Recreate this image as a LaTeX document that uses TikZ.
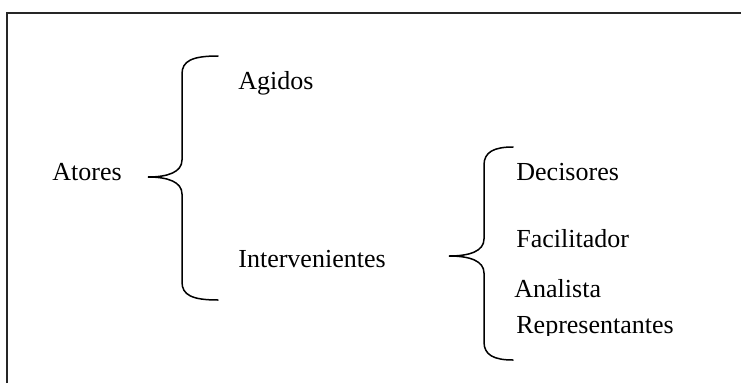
\documentclass[tikz,border=0pt]{standalone}
\usepackage{fontspec}
\setmainfont{Liberation Serif}
\usepackage{tikz}

% tip x, tip y, line x, end x, top y, bottom y
\newcommand\curlybrace[6]{%
	\draw[brace line] (#4,#5) .. controls (#3+10,#5) and (#3,#5+5) .. (#3,#5+18)
		-- (#3,#2-17) .. controls (#3,#2-5) and (#3-14,#2) .. (#1,#2)
		.. controls (#3-14,#2) and (#3,#2+5) .. (#3,#2+17)
		-- (#3,#6-18) .. controls (#3,#6-5) and (#3+10,#6) .. (#4,#6);}

\begin{document}
\begin{tikzpicture}[x=1pt,y=-1pt,thick,brace line/.style={line width=1.5pt,line cap=round},frame line/.style={line width=2pt,black!85},main node/.style={anchor=base west,inner sep=0pt,font=\fontsize{26}{30}\selectfont}]
	\useasboundingbox (0,0) rectangle (741,383);
	\draw[frame line] (7,383) -- (7,13) -- (741,13);

	\node[main node] (atores) at (52,180) {Atores};
	\node[main node] (agidos) at (238,89) {Agidos};
	\node[main node] (interv) at (238,267) {Intervenientes};
	\node[main node] (decis) at (516,180) {Decisores};
	\node[main node] (facil) at (516,247) {Facilitador};
	\node[main node] (anal) at (514,297) {Analista};
	\begin{scope}
		\clip (500,300) rectangle (741,335);
		\node[main node] (repres) at (516,333) {Representantes};
	\end{scope}

	\curlybrace{148}{177}{182}{218}{56}{300}
	\curlybrace{449}{256}{484}{513}{147}{360}
\end{tikzpicture}
\end{document}
